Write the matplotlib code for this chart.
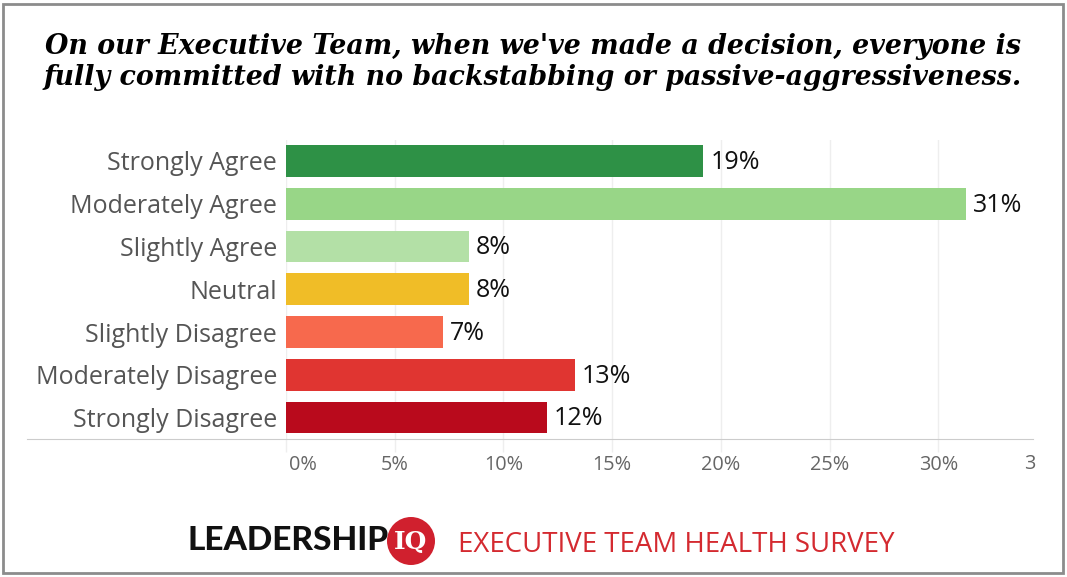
import matplotlib
matplotlib.use("Agg")
import matplotlib.pyplot as plt
from matplotlib.patches import Rectangle, Ellipse
from matplotlib.transforms import blended_transform_factory, offset_copy

categories = ["Strongly Agree", "Moderately Agree", "Slightly Agree", "Neutral",
              "Slightly Disagree", "Moderately Disagree", "Strongly Disagree"]
values = [19.2, 31.3, 8.4, 8.4, 7.2, 13.3, 12.0]
value_labels = ["19%", "31%", "8%", "8%", "7%", "13%", "12%"]
colors = ["#2e9146", "#98d687", "#b3e0a6", "#f0bd27", "#f7694d", "#e03531", "#b90a1c"]
xticks = [0, 5, 10, 15, 20, 25, 30]
xtick_labels = ["0%", "5%", "10%", "15%", "20%", "25%", "30%"]

title = ("On our Executive Team, when we've made a decision, everyone is\n"
         "fully committed with no backstabbing or passive-aggressiveness.")

W, H = 1067, 577
fig = plt.figure(figsize=(W / 100, H / 100), dpi=100)
fig.patch.set_facecolor("white")

# outer frame
fig.patches.append(Rectangle((3 / W, 4 / H), (W - 7) / W, (H - 8) / H, transform=fig.transFigure,
                             fill=False, edgecolor="#8c8c8c", linewidth=2))

ax = fig.add_axes([286 / W, 1 - 439 / H, (1033 - 286) / W, (439 - 139.5) / H])
y = list(range(len(categories)))
ax.barh(y, values, height=0.74, color=colors, zorder=3)
for yi, v, lab in zip(y, values, value_labels):
    ax.annotate(lab, (v, yi), xytext=(5, -1), textcoords="offset points", va="center",
                ha="left", fontsize=18, color="#111111", family="Open Sans")

ax.set_yticks(y)
ax.set_yticklabels(categories, fontsize=18, color="#555555", family="Open Sans")
ax.tick_params(axis="y", length=0, pad=6.5)
ax.set_xticks(xticks)
ax.set_xticklabels(xtick_labels, fontsize=14.3, color="#666666", family="Open Sans")
ax.tick_params(axis="x", length=9, color="#eeeeee", width=1, pad=2.5)
ax.set_xlim(0, 34.36)
ax.set_ylim(len(categories) - 0.5, -0.5)
ax.xaxis.grid(True, color="#eeeeee", linewidth=1, zorder=0)
for s in ["top", "right", "left"]:
    ax.spines[s].set_visible(False)
ax.spines["bottom"].set_color("#cccccc")
ax.spines["bottom"].set_bounds(-11.9, 34.36)
ax.spines["bottom"].set_clip_on(False)
first = ax.get_xticklabels()[0]
first.set_horizontalalignment("left")
first.set_transform(offset_copy(first.get_transform(), fig=fig, x=3, y=0, units="dots"))
# clipped label of the 35% tick at the right edge
tr = offset_copy(blended_transform_factory(ax.transData, ax.transAxes), fig=fig,
                 x=-17, y=0, units="dots")
ax.text(35, -0.082, "3", transform=tr, ha="center", va="center", fontsize=14.3,
        color="#666666", family="Open Sans", clip_on=False)

fig.text(533 / W, 1 - 62 / H, title, ha="center", va="center", fontsize=19.4,
         family="DejaVu Serif", weight="bold", style="italic", color="black",
         linespacing=1.18)

# footer
fig.text(187 / W, 1 - 541 / H, "LEADERSHIP", ha="left", va="center", fontsize=24,
         family="Lato", weight="black", color="#111111")
fig.patches.append(Ellipse((411 / W, 1 - 541 / H), 48 / W, 48 / H, transform=fig.transFigure,
                           facecolor="#d0202e", edgecolor="none"))
fig.text(411 / W, 1 - 542 / H, "IQ", ha="center", va="center", fontsize=18,
         family="DejaVu Serif", weight="bold", color="white")
fig.text(458 / W, 1 - 545 / H, "EXECUTIVE TEAM HEALTH SURVEY", ha="left", va="center",
         fontsize=19.9, family="Open Sans", color="#d42a30")

fig.savefig("out.png", dpi=100, facecolor="white")
